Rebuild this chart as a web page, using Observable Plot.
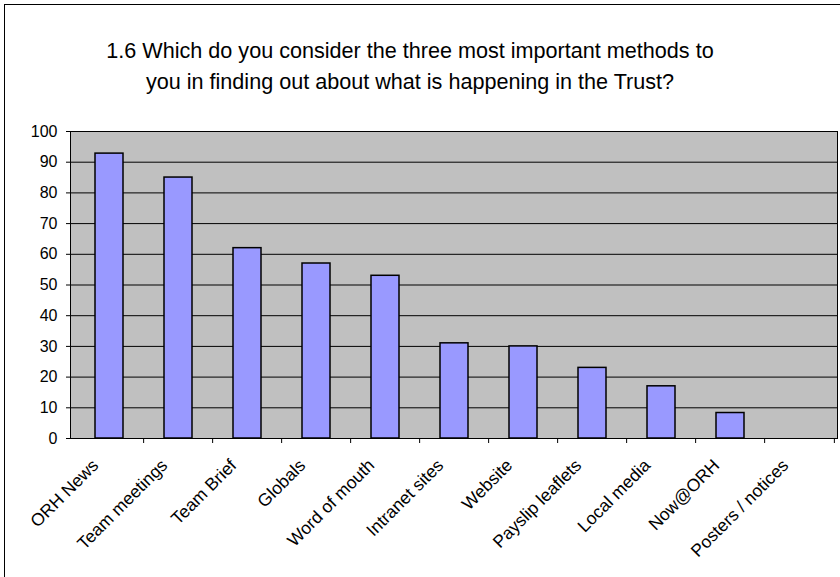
<!DOCTYPE html>
<html>
<head>
<meta charset="utf-8">
<script src="https://cdn.jsdelivr.net/npm/d3@7"></script>
<script src="https://cdn.jsdelivr.net/npm/@observablehq/plot@0.6"></script>
<style>
  html, body { margin: 0; padding: 0; background: #fff; }
  #chart { position: relative; width: 840px; height: 577px; overflow: hidden; font-family: "Liberation Sans", Arial, sans-serif; }
  #frame { position: absolute; left: 4px; top: 4px; width: 900px; height: 700px; border: 1px solid #000; box-sizing: border-box; }
  #title { position: relative; height: 110px; box-sizing: border-box; padding-top: 35px; width: 820px; text-align: center; font-size: 21.6px; line-height: 31px; color: #000; }
  #chart svg { position: relative; display: block; }
</style>
</head>
<body>
<div id="chart">
  <div id="frame"></div>
  <div id="title">1.6 Which do you consider the three most important methods to<br>you in finding out about what is happening in the Trust?</div>
</div>
<script>
const methods = [
  "ORH News", "Team meetings", "Team Brief", "Globals", "Word of mouth",
  "Intranet sites", "Website", "Payslip leaflets", "Local media", "Now@ORH",
  "Posters / notices"
];
const percentages = [92.8, 85, 62, 57, 53, 31, 30, 23, 17, 8.3, 0];
const yTicks = [0, 10, 20, 30, 40, 50, 60, 70, 80, 90, 100];

const data = methods.map((method, i) => ({method, value: percentages[i]}));

const width = 840, height = 467;
const marginLeft = 70, marginRight = 3, marginTop = 21, marginBottom = 139;
const step = (width - marginLeft - marginRight) / methods.length;
const noLabel = () => "";

const chart = Plot.plot({
  width, height, marginLeft, marginRight, marginTop, marginBottom,
  style: {fontFamily: "'Liberation Sans', Arial, sans-serif", fontSize: "16px", color: "#000", background: "transparent"},
  x: {domain: methods, paddingInner: 0.6, paddingOuter: 0.3, label: null},
  y: {domain: [0, 100], label: null},
  marks: [
    Plot.frame({fill: "#C0C0C0", stroke: "#000"}),
    Plot.ruleY(yTicks.filter(d => d > 0 && d < 100), {stroke: "#000", strokeWidth: 1}),
    Plot.barY(data, {x: "method", y: "value", fill: "#9999FF", stroke: "#000", strokeWidth: 1.5}),
    // short ticks under the axis at the boundaries between categories
    Plot.axisX({ticks: methods.slice(1), tickSize: 5, tickFormat: noLabel, dx: -step / 2, stroke: "#000"}),
    Plot.axisX({ticks: methods.slice(-1), tickSize: 5, tickFormat: noLabel, dx: step / 2, stroke: "#000"}),
    Plot.axisY({ticks: yTicks, tickSize: 4, tickPadding: 9, stroke: "#000"}),
    Plot.axisX({tickSize: 0, tickRotate: -45, tickPadding: 10, fontSize: 17.5, dx: -14, dy: 14}),
    Plot.ruleY([0], {stroke: "#000"})
  ]
});
document.getElementById("chart").appendChild(chart);
</script>
</body>
</html>
